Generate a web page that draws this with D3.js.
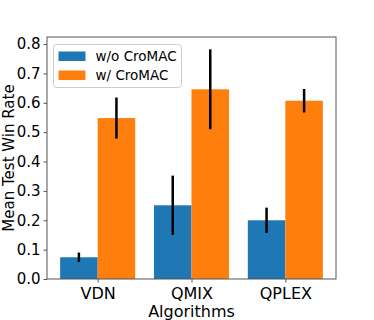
<!DOCTYPE html>
<html>
<head>
<meta charset="utf-8">
<script src="https://cdn.jsdelivr.net/npm/d3@7"></script>
<style>
  body { margin: 0; background: #fff; }
  text { font-family: "DejaVu Sans", sans-serif; fill: #000; }
</style>
</head>
<body>
<script>
const w = 374
const h = 320
const m = {top: 37, right: 38, bottom: 41, left: 47}

const algorithms = ['VDN', 'QMIX', 'QPLEX']
const seriesNames = ['w/o CroMAC', 'w/ CroMAC']
const withoutMean = [0.074, 0.251, 0.200]
const withoutErr = [0.016, 0.101, 0.043]
const withMean = [0.548, 0.646, 0.607]
const withErr = [0.070, 0.136, 0.040]
const yTicks = [0.0, 0.1, 0.2, 0.3, 0.4, 0.5, 0.6, 0.7, 0.8]
const colors = ['#1f77b4', '#ff7f0e']

const svg = d3.select('body').append('svg').attr('width', w).attr('height', h)

// matplotlib style: x positions 0..2, bars of width 0.4, 5% margins
const x = d3.scaleLinear().domain([-0.54, 2.54]).range([m.left, w - m.right])
const y = d3.scaleLinear().domain([0, 0.824]).range([h - m.bottom, m.top])

const rows = []
algorithms.forEach((a, i) => {
  rows.push({i: i, s: 0, v: withoutMean[i], e: withoutErr[i]})
  rows.push({i: i, s: 1, v: withMean[i], e: withErr[i]})
})

svg.selectAll('rect.bar').data(rows).enter().append('rect')
  .attr('class', 'bar')
  .attr('x', d => x(d.i + (d.s === 0 ? -0.4 : 0)))
  .attr('width', d => x(0.4) - x(0))
  .attr('y', d => y(d.v))
  .attr('height', d => y(0) - y(d.v))
  .attr('fill', d => colors[d.s])

svg.selectAll('line.err').data(rows).enter().append('line')
  .attr('class', 'err')
  .attr('x1', d => x(d.i + (d.s === 0 ? -0.2 : 0.2)))
  .attr('x2', d => x(d.i + (d.s === 0 ? -0.2 : 0.2)))
  .attr('y1', d => y(d.v - d.e))
  .attr('y2', d => y(d.v + d.e))
  .attr('stroke', '#000')
  .attr('stroke-width', 2.5)

// frame
svg.append('rect')
  .attr('x', m.left).attr('y', m.top)
  .attr('width', w - m.left - m.right).attr('height', h - m.top - m.bottom)
  .attr('fill', 'none').attr('stroke', '#555').attr('stroke-width', 1)

const yAxis = svg.append('g').attr('transform', 'translate(' + m.left + ',0)')
  .call(d3.axisLeft(y).tickValues(yTicks).tickFormat(d3.format('.1f')).tickSize(3.5).tickPadding(3))
yAxis.select('.domain').remove()
yAxis.selectAll('line').attr('stroke', '#555')
yAxis.selectAll('text').style('font-size', '15px').attr('fill', '#000')

const xAxis = svg.append('g').attr('transform', 'translate(0,' + (h - m.bottom) + ')')
  .call(d3.axisBottom(x).tickValues([0, 1, 2]).tickFormat(i => algorithms[i]).tickSize(3.5).tickPadding(5))
xAxis.select('.domain').remove()
xAxis.selectAll('line').attr('stroke', '#555')
xAxis.selectAll('text').style('font-size', '16px').attr('fill', '#000')

svg.append('text')
  .attr('transform', 'translate(14,' + ((m.top + h - m.bottom) / 2) + ') rotate(-90)')
  .attr('text-anchor', 'middle')
  .style('font-size', '15px')
  .text('Mean Test Win Rate')

svg.append('text')
  .attr('x', (m.left + w - m.right) / 2)
  .attr('y', 316.5)
  .attr('text-anchor', 'middle')
  .style('font-size', '16px')
  .text('Algorithms')

// legend
const lg = svg.append('g').attr('transform', 'translate(53.5,44.5)')
lg.append('rect').attr('width', 128).attr('height', 43).attr('rx', 3)
  .attr('fill', '#fff').attr('fill-opacity', 0.8).attr('stroke', '#ccc')
seriesNames.forEach((s, k) => {
  lg.append('rect').attr('x', 5).attr('y', 7 + k * 19).attr('width', 27).attr('height', 9.5)
    .attr('fill', colors[k])
  lg.append('text').attr('x', 42).attr('y', 16.5 + k * 19)
    .style('font-size', '13.5px').text(s)
})
</script>
</body>
</html>
